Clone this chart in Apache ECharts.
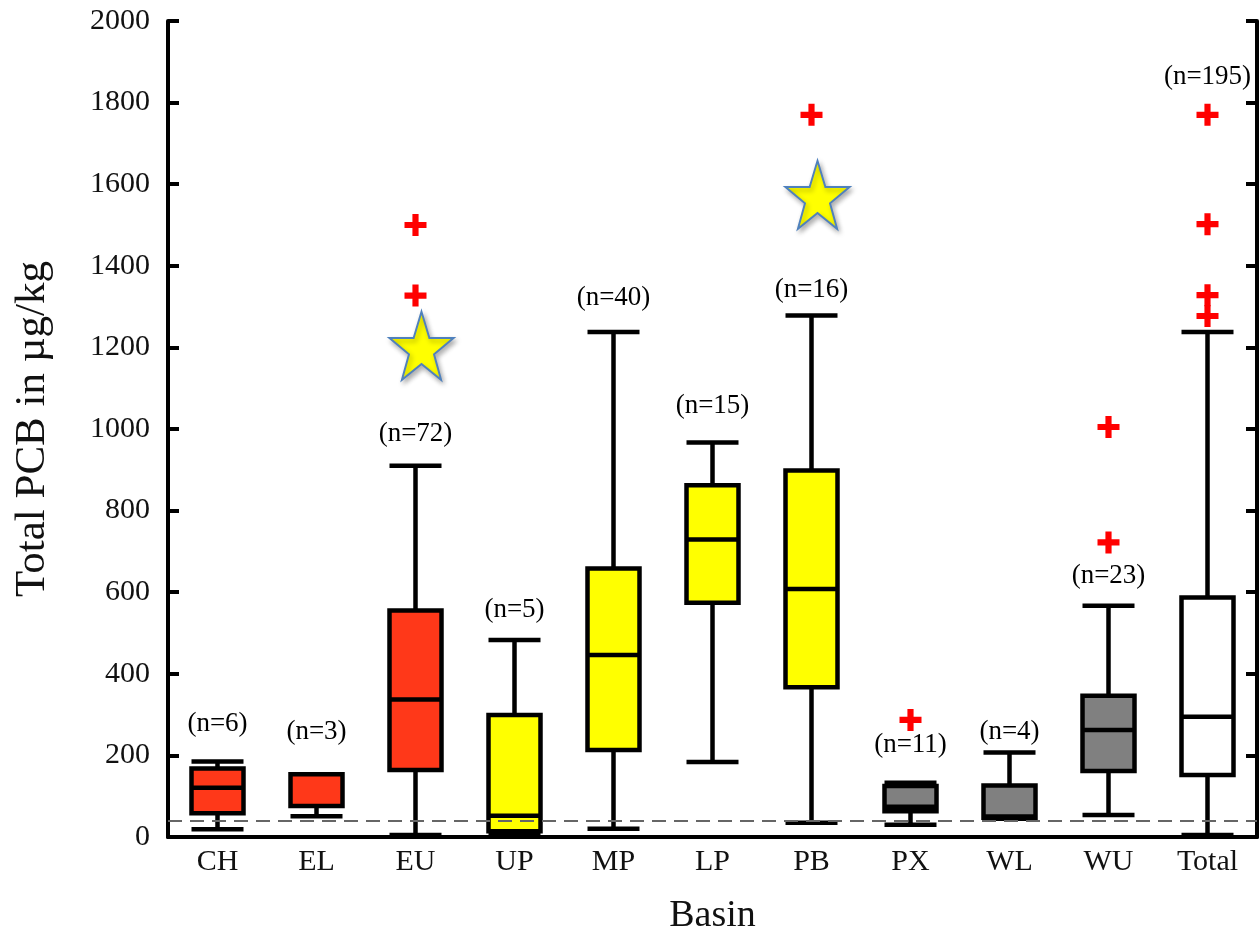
<!DOCTYPE html>
<html><head><meta charset="utf-8">
<script src="https://cdn.jsdelivr.net/npm/echarts@6/dist/echarts.min.js"></script>
<style>html,body{margin:0;padding:0;background:#fff}#c{width:1260px;height:944px}</style>
</head><body><div id="c"></div>
<script>
// ---- data ----
const basins = ['CH','EL','EU','UP','MP','LP','PB','PX','WL','WU','Total'];
const sampleCounts = [6,3,72,5,40,15,16,11,4,23,195];
const whiskerLow  = [19, 51,   5,   8,  20, 184,   35,  30,  45,  54,    5];
const quart1      = [58, 76, 164,  14, 213, 574,  367,  63,  47, 162,  152];
const medianVal   = [121,154, 337,  52, 446, 729,  608,  74,  50, 262,  295];
const quart3      = [168,154, 555, 299, 658, 862,  898, 125, 126, 346,  587];
const whiskerHigh = [185,154, 910, 483,1238, 967, 1278, 133, 207, 567, 1238];
const outlierBasin = ['EU','EU','PB','PX','WU','WU','Total','Total','Total','Total'];
const outlierValue = [1500,1327,1770,287,1005,722,1770,1502,1328,1277];
const starBasin = ['EU','PB'];
const starValue = [1204,1574];
const countLabelAt = [277,257,988,556,1321,1056,1340,225,257,640,1863];
const referenceLevel = 40;
const yTicks = {min:0, max:2000, step:200};
const groupOf = ['r','r','r','y','y','y','y','g','g','g','w'];

// ---- styles ----
const fills = {r:'#FF3819', y:'#FFFF00', g:'#808080', w:'#FFFFFF'};
const serif = '"Liberation Serif","Times New Roman",serif';
const txt = '#111111';
const plusPath = 'path://M3.6,0H6.4V3.6H10V6.4H6.4V10H3.6V6.4H0V3.6H3.6Z';
const starPath = 'path://M50,0L61.8,35.1L98.1,35.1L68.8,56.8L79.4,90.9L50,69.8L20.6,90.9L31.2,56.8L1.9,35.1L38.2,35.1Z';

const chart = echarts.init(document.getElementById('c'), null, {renderer:'canvas'});
chart.setOption({
  animation:false,
  backgroundColor:'#fff',
  grid:{left:168, right:3, top:21, bottom:107},
  xAxis:[{
    type:'category', data:basins, position:'bottom',
    axisLine:{lineStyle:{color:'#000', width:4}},
    axisTick:{show:false},
    axisLabel:{fontFamily:serif, fontSize:30, color:txt, margin:10},
    name:'Basin', nameLocation:'middle', nameGap:60,
    nameTextStyle:{fontFamily:serif, fontSize:38, color:txt}
  },{
    type:'category', data:basins, position:'top',
    axisLine:{lineStyle:{color:'#000', width:3.5}},
    axisTick:{show:false}, axisLabel:{show:false}
  }],
  yAxis:[{
    type:'value', min:yTicks.min, max:yTicks.max, interval:yTicks.step, position:'left',
    axisLine:{show:true, lineStyle:{color:'#000', width:4}},
    axisTick:{show:true, inside:true, length:11, lineStyle:{color:'#000', width:4}},
    axisLabel:{fontFamily:serif, fontSize:30, color:txt, margin:18, formatter:v=>String(v)},
    splitLine:{show:false},
    name:'Total PCB in \u00b5g/kg', nameLocation:'middle', nameGap:114,
    nameTextStyle:{fontFamily:serif, fontSize:43, color:txt}
  },{
    type:'value', min:yTicks.min, max:yTicks.max, interval:yTicks.step, position:'right',
    axisLine:{show:true, lineStyle:{color:'#000', width:4}},
    axisTick:{show:true, inside:true, length:11, lineStyle:{color:'#000', width:4}},
    axisLabel:{show:false}, splitLine:{show:false}
  }],
  series:[
    {
      type:'line', data:[], z:1,
      markLine:{silent:true, symbol:'none', label:{show:false},
        lineStyle:{color:'#666666', type:[14,8], width:2},
        data:[{yAxis:referenceLevel}]}
    },
    {
      type:'boxplot', z:3, boxWidth:[52,52],
      itemStyle:{borderColor:'#000', borderWidth:4.5},
      data: basins.map((b,i)=>({
        value:[whiskerLow[i], quart1[i], medianVal[i], quart3[i], whiskerHigh[i]],
        itemStyle:{color:fills[groupOf[i]], borderColor:'#000', borderWidth:4.5}
      }))
    },
    {
      type:'scatter', z:4, symbol:plusPath, symbolSize:22,
      itemStyle:{color:'#FF0000', opacity:1},
      data: outlierBasin.map((b,i)=>[b, outlierValue[i]])
    },
    {
      type:'scatter', z:5, symbol:starPath, symbolSize:[64,68], symbolOffset:[6,0],
      itemStyle:{color:'#FFFF00', opacity:1, borderColor:'#4F81BD', borderWidth:2,
        shadowBlur:5, shadowColor:'rgba(0,0,0,0.3)', shadowOffsetX:2, shadowOffsetY:3},
      data: starBasin.map((b,i)=>[b, starValue[i]])
    },
    {
      type:'scatter', z:6, symbolSize:0, itemStyle:{color:'#000', opacity:1},
      label:{show:true, position:[0,0], align:'center', verticalAlign:'middle',
        fontFamily:serif, fontSize:27, color:'#000', opacity:1, textBorderWidth:0,
        formatter:p=>'(n=' + sampleCounts[p.dataIndex] + ')'},
      data: basins.map((b,i)=>[b, countLabelAt[i]])
    }
  ]
});
</script>
</body></html>
